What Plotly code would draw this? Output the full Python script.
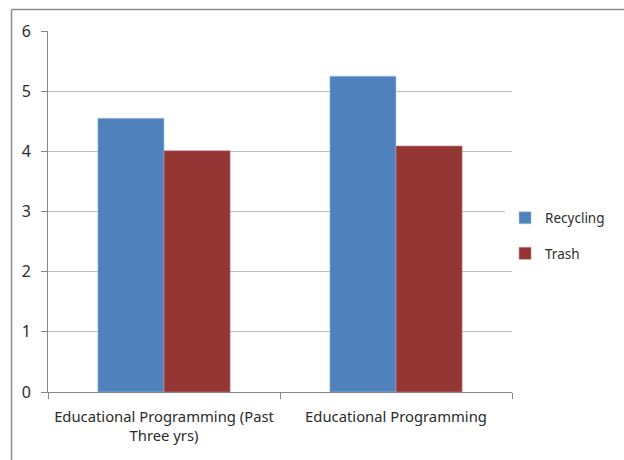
"""Recycling vs trash bar chart."""

import plotly.graph_objects as go

categories = ["Educational Programming (Past<br>Three yrs)", "Educational Programming"]
recycling = [4.55, 5.25]
trash = [4.01, 4.09]
y_ticks = [0, 1, 2, 3, 4, 5, 6]

FONT = "Noto Sans"

fig = go.Figure()
fig.add_trace(go.Bar(
    x=categories, y=recycling, name="Recycling",
    marker=dict(color="#4F81BD", line=dict(color="#A7C4E6", width=0.6)),
    legendgroup="a",
))
fig.add_trace(go.Bar(
    x=categories, y=trash, name="Trash",
    marker=dict(color="#943634", line=dict(color="#C98C8B", width=0.6)),
    legendgroup="b",
))

fig.update_layout(
    width=624, height=460,
    barmode="group", bargap=0.43, bargroupgap=0,
    margin=dict(l=48, r=112, t=31, b=68),
    paper_bgcolor="white", plot_bgcolor="white",
    font=dict(family=FONT, size=14, color="#2B2B2B"),
    legend=dict(
        x=0.985, y=0.432, xanchor="left", yanchor="middle",
        font=dict(family=FONT, size=13.5, color="#2B2B2B"),
        tracegroupgap=15, itemwidth=30,
    ),
    showlegend=True,
)
fig.update_xaxes(
    showline=True, linecolor="#868686", linewidth=1,
    ticks="outside", ticklen=6, tickcolor="#868686",
    tickson="boundaries", showgrid=False,
    tickfont=dict(size=14.8), ticklabelstandoff=11,
)
fig.update_yaxes(
    range=[0, 6], tickvals=y_ticks,
    showline=True, linecolor="#868686", linewidth=1,
    ticks="outside", ticklen=6, tickcolor="#868686",
    showgrid=True, gridcolor="#BEBEBE", gridwidth=1,
    zeroline=False, tickfont=dict(size=16), ticklabelstandoff=7,
)

# chart frame (top and left edges visible in the crop)
fig.add_shape(type="line", xref="paper", yref="paper",
              x0=(11.5 - 48) / 464, x1=1.3, y0=(392 - 9.5) / 361, y1=(392 - 9.5) / 361,
              line=dict(color="#8C8C8C", width=1.5))
fig.add_shape(type="line", xref="paper", yref="paper",
              x0=(11.5 - 48) / 464, x1=(11.5 - 48) / 464, y0=(392 - 9.5) / 361, y1=-0.3,
              line=dict(color="#8C8C8C", width=1.5))

fig.write_html("out.html", config={"displayModeBar": False},
               post_script="document.body.style.margin='0';")
